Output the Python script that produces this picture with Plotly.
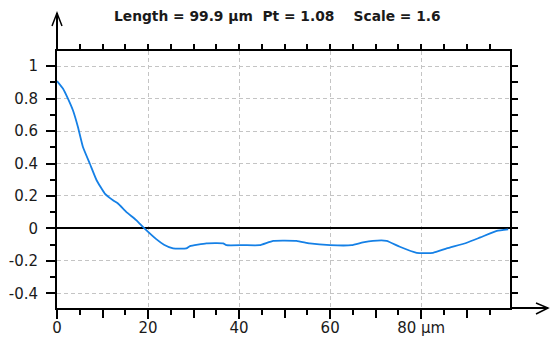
import plotly.graph_objects as go

# ---- data ----
pos_um = [0, 1.3, 2.4, 3.5, 4.6, 5.7, 7.2, 8.7, 10.5, 12.3, 13.4, 15.2, 17.4, 19.2,
          21.8, 23.5, 25.5, 28.4, 29.2, 32.8, 36.5, 37.2, 41.0, 44.5, 47.5, 52.6,
          55.5, 60.0, 64.7, 67.2, 69.4, 72.4, 75.3, 79.0, 82.6, 85.6, 90.0, 93.0,
          96.6, 99.1]
profile = [0.908, 0.862, 0.80, 0.728, 0.625, 0.502, 0.40, 0.297, 0.215, 0.174, 0.154,
           0.102, 0.051, 0.0, -0.066, -0.10, -0.123, -0.123, -0.109, -0.092, -0.092,
           -0.103, -0.103, -0.103, -0.076, -0.076, -0.092, -0.103, -0.103, -0.086,
           -0.076, -0.076, -0.113, -0.15, -0.15, -0.123, -0.088, -0.055, -0.015, -0.006]

x_major = [0, 20, 40, 60, 80]
x_major_text = ["0", "20", "40", "60", "80 µm"]
x_mid = [10, 30, 50, 70, 90]
x_minor = [5, 10, 15, 20, 25, 30, 35, 40, 45, 50, 55, 60, 65, 70, 75, 80, 85, 90, 95]
x_top = [0, 5, 10, 15, 20, 25, 30, 35, 40, 45, 50, 55, 60, 65, 70, 75, 80, 85, 90, 95]
y_major = [-0.4, -0.2, 0, 0.2, 0.4, 0.6, 0.8, 1.0]
y_major_text = ["-0.4", "-0.2", "0", "0.2", "0.4", "0.6", "0.8", "1"]
y_minor = [-0.4, -0.3, -0.2, -0.1, 0, 0.1, 0.2, 0.3, 0.4, 0.5, 0.6, 0.7, 0.8, 0.9, 1.0]
title_text = "Length = 99.9 µm\u00a0\u00a0Pt = 1.08\u00a0\u00a0\u00a0\u00a0Scale = 1.6"

X_RANGE = [0, 99.5]
Y_RANGE = [-0.49, 1.093]

W, H = 551, 340
ML, MR, MT, MB = 57, 41, 51, 32
PW, PH = W - ML - MR, H - MT - MB

def px(xp):
    return (xp - ML) / PW

def py(yp):
    return (H - MB - yp) / PH

FONT = "DejaVu Sans"
GRID = "#c4c4c4"

fig = go.Figure()
fig.add_trace(go.Scatter(x=pos_um, y=profile, mode="lines",
                         line=dict(color="#1580e6", width=1.8, shape="spline", smoothing=0.4),
                         showlegend=False, hoverinfo="skip"))
fig.add_trace(go.Scatter(x=[], y=[], xaxis="x2", yaxis="y", showlegend=False))
fig.add_trace(go.Scatter(x=[], y=[], xaxis="x3", yaxis="y", showlegend=False))
fig.add_trace(go.Scatter(x=[], y=[], xaxis="x", yaxis="y2", showlegend=False))

tickfont = dict(family=FONT, size=15, color="#1a1a1a")

fig.update_layout(
    width=W, height=H,
    margin=dict(l=ML, r=MR, t=MT, b=MB, autoexpand=False),
    paper_bgcolor="white", plot_bgcolor="white",
    xaxis=dict(range=X_RANGE, tickmode="array", tickvals=x_major, ticktext=x_major_text,
               ticks="outside", ticklen=9, tickwidth=2, tickcolor="black",
               showline=True, linecolor="black", linewidth=2, automargin=False,
               showgrid=True, gridcolor=GRID, griddash="4px,3px", gridwidth=1,
               zeroline=False, tickfont=tickfont, ticklabelstandoff=-4,
               minor=dict(tickmode="array", tickvals=x_minor, ticks="outside",
                          ticklen=5, tickwidth=2, tickcolor="black", showgrid=False)),
    xaxis2=dict(range=X_RANGE, overlaying="x", side="top", anchor="y",
                tickmode="array", tickvals=x_top, ticks="outside", ticklen=5,
                tickwidth=2, tickcolor="black", showticklabels=False, automargin=False,
                showline=True, linecolor="black", linewidth=2,
                showgrid=False, zeroline=False),
    xaxis3=dict(range=X_RANGE, overlaying="x", side="bottom", anchor="y",
                tickmode="array", tickvals=x_mid, ticks="outside", ticklen=9,
                tickwidth=2, tickcolor="black", showticklabels=False, automargin=False,
                showline=False, showgrid=False, zeroline=False),
    yaxis=dict(range=Y_RANGE, tickmode="array", tickvals=y_major, ticktext=y_major_text,
               ticks="outside", ticklen=9, tickwidth=2, tickcolor="black",
               showline=True, linecolor="black", linewidth=2, automargin=False,
               showgrid=True, gridcolor=GRID, griddash="4px,3px", gridwidth=1,
               zeroline=True, zerolinecolor="black", zerolinewidth=1.5,
               tickfont=tickfont, ticklabelstandoff=5,
               minor=dict(tickmode="array", tickvals=y_minor, ticks="outside",
                          ticklen=5, tickwidth=2, tickcolor="black", showgrid=False)),
    yaxis2=dict(range=Y_RANGE, overlaying="y", side="right", anchor="x",
                tickmode="array", tickvals=y_minor, ticks="outside", ticklen=6,
                tickwidth=2, tickcolor="black", showticklabels=False, automargin=False,
                showline=True, linecolor="black", linewidth=2,
                showgrid=False, zeroline=False),
    annotations=[dict(text=title_text, xref="paper", yref="paper",
                      x=px(277), y=py(16), xanchor="center", yanchor="middle",
                      showarrow=False,
                      font=dict(family=FONT, size=13.8, color="#1a1a1a", weight="bold"))],
)

# axis arrows (decoration)
shapes = [
    dict(type="line", xref="paper", yref="paper", x0=0, y0=1, x1=0, y1=py(13),
         line=dict(color="black", width=2)),
    dict(type="path", xref="paper", yref="paper",
         path=f"M {px(52)},{py(26)} L {px(57)},{py(13)} L {px(62)},{py(26)}",
         line=dict(color="black", width=1.5)),
    dict(type="line", xref="paper", yref="paper", x0=1, y0=0, x1=px(548), y1=0,
         line=dict(color="black", width=2)),
    dict(type="path", xref="paper", yref="paper",
         path=f"M {px(536)},{py(303)} L {px(548)},{py(308)} L {px(536)},{py(314)}",
         line=dict(color="black", width=1.5)),
]
fig.update_layout(shapes=shapes)

fig.write_html("out.html")
